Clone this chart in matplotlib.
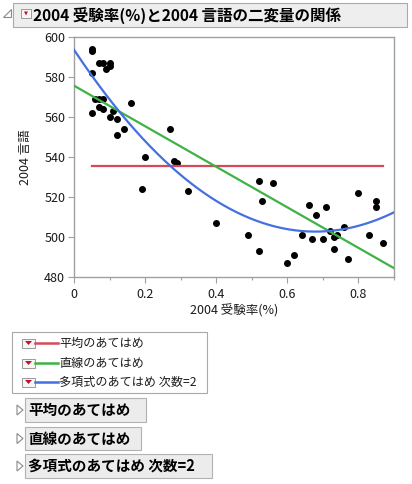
import numpy as np
import matplotlib.pyplot as plt
from matplotlib.patches import Rectangle, Polygon
from matplotlib.lines import Line2D

plt.rcParams['font.family'] = ['Noto Sans CJK JP', 'DejaVu Sans']

# 2004 受験率(%) と 2004 言語 (読み取り値)
rate = [0.05, 0.05, 0.071, 0.081, 0.10, 0.10, 0.09, 0.05, 0.059, 0.071,
        0.081, 0.16, 0.071, 0.081, 0.05, 0.109, 0.10, 0.12, 0.14, 0.12,
        0.27, 0.20, 0.19, 0.28, 0.29, 0.32, 0.40, 0.49, 0.52, 0.56,
        0.53, 0.52, 0.62, 0.60, 0.64, 0.66, 0.67, 0.68, 0.70, 0.71,
        0.72, 0.73, 0.73, 0.74, 0.76, 0.77, 0.80, 0.83, 0.85, 0.85, 0.87]
verbal = [594, 593, 587, 587, 587, 585.5, 584, 582, 569, 569,
          569, 567, 565, 564, 562, 563, 560, 559, 554, 551,
          554, 540, 524, 538, 537, 523, 507, 501, 528, 527,
          518, 493, 491, 487, 501, 516, 499, 511, 499, 515,
          503, 500, 494, 501, 505, 489, 522, 501, 518, 515, 497]

xtick_vals = [0, 0.2, 0.4, 0.6, 0.8]
xtick_labels = ['0', '0.2', '0.4', '0.6', '0.8']
xminor_vals = [0.1, 0.3, 0.5, 0.7, 0.9]
ytick_vals = [480, 500, 520, 540, 560, 580, 600]

title = '2004 受験率(%)と2004 言語の二変量の関係'
xlabel = '2004 受験率(%)'
ylabel = '2004 言語'
fit_names = ['平均のあてはめ', '直線のあてはめ', '多項式のあてはめ 次数=2']

red = '#d6485a'
green = '#3db343'
blue = '#4470e0'
grey = '#a0a0a0'

W, H = 412, 484
fig = plt.figure(figsize=(W / 100, H / 100), dpi=100)
fig.patch.set_facecolor('white')


def fx(px):
    return px / W


def fy(py):
    return 1 - py / H


def rect(x0, y0, x1, y1, face, edge, lw=0.8):
    fig.add_artist(Rectangle((fx(x0), fy(y1)), (x1 - x0) / W, (y1 - y0) / H,
                             transform=fig.transFigure, facecolor=face,
                             edgecolor=edge, lw=lw))


def red_button(x0, y0, w, h):
    rect(x0, y0, x0 + w, y0 + h, '#f6f6f6', '#9a9a9a', 0.7)
    pts = [(fx(x0 + 3), fy(y0 + 2.5)), (fx(x0 + w - 3), fy(y0 + 2.5)),
           (fx(x0 + w / 2), fy(y0 + h - 2.5))]
    fig.add_artist(Polygon(pts, closed=True, transform=fig.transFigure,
                           facecolor='#c8102e', edgecolor='none'))


def disclosure(xc, yc):
    pts = [(fx(xc - 3), fy(yc - 5)), (fx(xc - 3), fy(yc + 5)), (fx(xc + 3), fy(yc))]
    fig.add_artist(Polygon(pts, closed=True, transform=fig.transFigure,
                           facecolor='white', edgecolor='#8a8a8a', lw=0.8))


# ヘッダー
pts = [(fx(3), fy(17)), (fx(11), fy(17)), (fx(11), fy(9))]
fig.add_artist(Polygon(pts, closed=True, transform=fig.transFigure,
                       facecolor='white', edgecolor='#8a8a8a', lw=0.8))
rect(13, 3, 407, 27, '#eeeeee', '#aaaaaa')
red_button(21, 9, 10, 9)
fig.text(fx(33), fy(15.5), title, fontsize=11.2, fontweight='bold',
         ha='left', va='center', color='black')

# グラフ
ax = fig.add_axes([fx(74), fy(277), 320 / W, 240 / H])
ax.set_facecolor('white')

x = np.array(rate)
y = np.array(verbal)
lin = np.polyfit(x, y, 1)
quad = np.polyfit(x, y, 2)
xs = np.linspace(0, 0.9, 300)

ax.plot(x, y, 'o', color='black', ms=4.0, mec='black', zorder=3)
ax.plot([x.min(), x.max()], [y.mean(), y.mean()], color=red, lw=1.6, zorder=4)
ax.plot(xs, np.polyval(lin, xs), color=green, lw=1.6, zorder=4)
ax.plot(xs, np.polyval(quad, xs), color=blue, lw=1.6, zorder=4)

ax.set_xlim(0, 0.9)
ax.set_ylim(480, 600)
ax.set_xticks(xtick_vals)
ax.set_xticklabels(xtick_labels)
ax.set_xticks(xminor_vals, minor=True)
ax.set_yticks(ytick_vals)
for s in ax.spines.values():
    s.set_color(grey)
    s.set_linewidth(1)
ax.tick_params(axis='both', which='major', color=grey, length=4.3, width=0.8,
               labelsize=9, labelcolor='#1a1a1a')
ax.tick_params(axis='x', which='major', pad=3.5)
ax.tick_params(axis='y', which='major', pad=2)
ax.tick_params(axis='x', which='minor', color=grey, length=2.5, width=0.8)

fig.text(fx(234), fy(311), xlabel, fontsize=9, ha='center', va='center', color='#1a1a1a')
fig.text(fx(25), fy(157), ylabel, fontsize=9, ha='center', va='center',
         rotation=90, color='#1a1a1a')

# 凡例
rect(12, 332, 207, 393, 'white', '#a8a8a8')
row_y = [343, 363, 382]
for name, col, yc in zip(fit_names, [red, green, blue], row_y):
    red_button(22, yc - 4.5, 13, 9)
    fig.add_artist(Line2D([fx(35), fx(58)], [fy(yc), fy(yc)], color=col, lw=1.8,
                          transform=fig.transFigure))
    fig.text(fx(59), fy(yc), name, fontsize=8.7, ha='left', va='center', color='#1a1a1a')

# アウトライン
boxes = [(398, 422, 146), (427, 450, 141), (454, 478, 212)]
for name, (y0, y1, x1) in zip(fit_names, boxes):
    disclosure(20, (y0 + y1) / 2)
    rect(25, y0, x1, y1, '#ececec', '#b2b2b2')
    fig.text(fx(28), fy((y0 + y1) / 2), name, fontsize=10.5, fontweight='bold',
             ha='left', va='center', color='black')

fig.savefig('out.png', dpi=100, facecolor=fig.get_facecolor())
